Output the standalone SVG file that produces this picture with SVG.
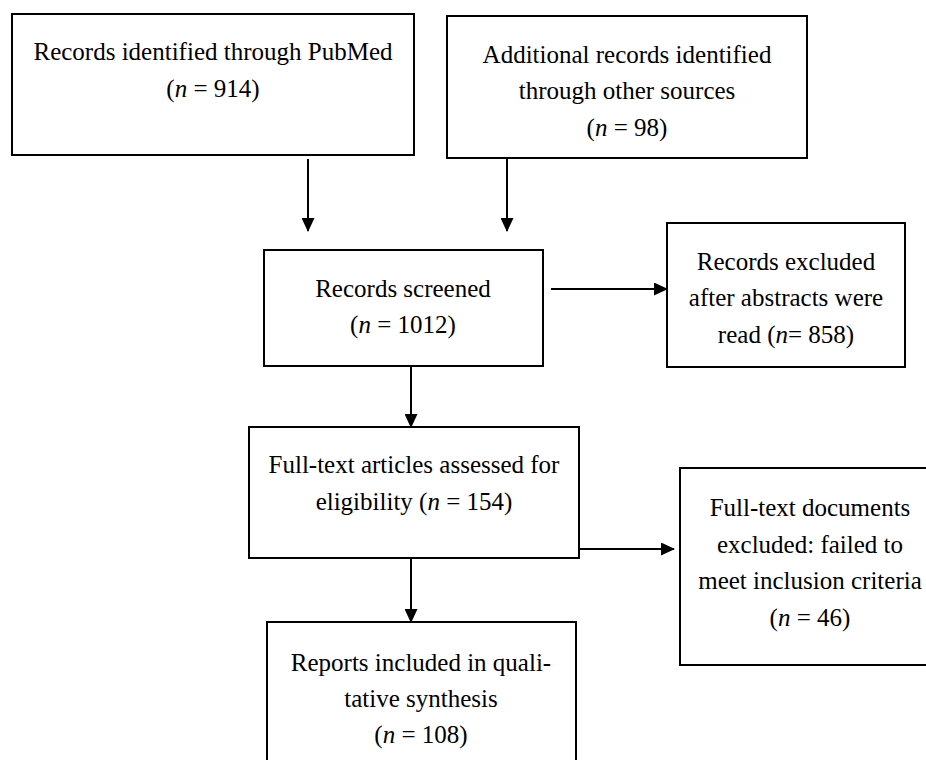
<svg xmlns="http://www.w3.org/2000/svg" width="926" height="760" viewBox="0 0 926 760">
<defs>
<marker id="ah" markerWidth="14" markerHeight="13" refX="13" refY="6.5" orient="auto" markerUnits="userSpaceOnUse">
<path d="M0,0 L14,6.5 L0,13 Z" fill="#000"/>
</marker>
</defs>
<style>
.box{fill:#fff;stroke:#000;stroke-width:2}
.t{font-family:"Liberation Serif","Times New Roman",serif;font-size:25px;fill:#000;text-anchor:middle}
.c{stroke:#000;stroke-width:2;fill:none;marker-end:url(#ah)}
</style>
<rect width="926" height="760" fill="#fff"/>
<g id="n1"><rect class="box" x="12" y="14" width="402" height="141"/>
<text class="t" x="213" y="60">Records identified through PubMed</text>
<text class="t" x="213" y="97">(<tspan font-style="italic">n</tspan> = 914)</text></g>
<g id="n2"><rect class="box" x="447" y="16" width="360" height="142"/>
<text class="t" x="627" y="63">Additional records identified</text>
<text class="t" x="627" y="99">through other sources</text>
<text class="t" x="627" y="136">(<tspan font-style="italic">n</tspan> = 98)</text></g>
<g id="n3"><rect class="box" x="264" y="250" width="279" height="116"/>
<text class="t" x="403" y="297">Records screened</text>
<text class="t" x="403" y="333">(<tspan font-style="italic">n</tspan> = 1012)</text></g>
<g id="n4"><rect class="box" x="667" y="223" width="238" height="144"/>
<text class="t" x="786" y="270">Records excluded</text>
<text class="t" x="786" y="306">after abstracts were</text>
<text class="t" x="786" y="343">read (<tspan font-style="italic">n</tspan>= 858)</text></g>
<g id="n5"><rect class="box" x="249" y="427" width="330" height="131"/>
<text class="t" x="414" y="473">Full-text articles assessed for</text>
<text class="t" x="414" y="510">eligibility (<tspan font-style="italic">n</tspan> = 154)</text></g>
<g id="n6"><rect class="box" x="680" y="468" width="250" height="197"/>
<text class="t" x="810" y="516">Full-text documents</text>
<text class="t" x="810" y="553">excluded: failed to</text>
<text class="t" x="810" y="589">meet inclusion criteria</text>
<text class="t" x="810" y="626">(<tspan font-style="italic">n</tspan> = 46)</text></g>
<g id="n7"><rect class="box" x="267" y="622" width="309" height="150"/>
<text class="t" x="421" y="671">Reports included in quali-</text>
<text class="t" x="421" y="707">tative synthesis</text>
<text class="t" x="421" y="743">(<tspan font-style="italic">n</tspan> = 108)</text></g>
<g id="connectors">
<line class="c" x1="308" y1="159" x2="308" y2="231"/>
<line class="c" x1="507" y1="158" x2="507" y2="231"/>
<line class="c" x1="551" y1="289" x2="667" y2="289"/>
<line class="c" x1="411" y1="366" x2="411" y2="427"/>
<line class="c" x1="579" y1="549" x2="674" y2="549"/>
<line class="c" x1="411" y1="558" x2="411" y2="622"/>
</g>
</svg>
